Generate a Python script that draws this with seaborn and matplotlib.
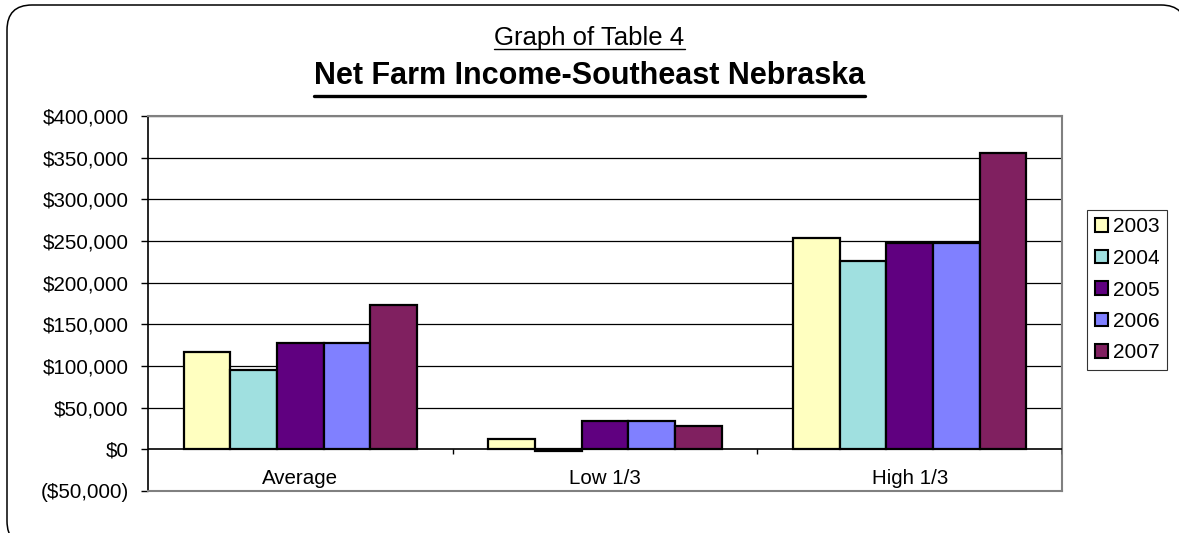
import matplotlib
matplotlib.use("Agg")
import matplotlib.pyplot as plt
import seaborn as sns
import pandas as pd
from matplotlib.patches import FancyBboxPatch, Patch
from matplotlib.lines import Line2D
from matplotlib.transforms import IdentityTransform

categories = ["Average", "Low 1/3", "High 1/3"]
years = ["2003", "2004", "2005", "2006", "2007"]
v2003 = [117000, 13000, 254000]
v2004 = [95000, -2000, 226000]
v2005 = [128000, 34000, 248000]
v2006 = [128000, 34000, 248000]
v2007 = [173000, 28000, 356000]
colors = ["#FFFFC0", "#A0E0E0", "#600080", "#8080FF", "#802060"]
ytick_vals = [-50000, 0, 50000, 100000, 150000, 200000, 250000, 300000, 350000, 400000]

series = [v2003, v2004, v2005, v2006, v2007]
rows = []
for y, vals in zip(years, series):
    for c, v in zip(categories, vals):
        rows.append({"Group": c, "Year": y, "Income": v})
df = pd.DataFrame(rows)

sns.set_style("white")
plt.rcParams["font.family"] = ["Liberation Sans", "DejaVu Sans"]
for k in ["text.color", "axes.labelcolor", "xtick.color", "ytick.color"]:
    plt.rcParams[k] = "black"

fig = plt.figure(figsize=(11.79, 5.33), dpi=100)
ax = fig.add_axes([148/1179, 1-491/533, (1062-148)/1179, (491-116)/533])

sns.barplot(data=df, x="Group", y="Income", hue="Year", order=categories,
            hue_order=years, palette=colors, width=0.765, saturation=1,
            edgecolor="black", linewidth=1.6, ax=ax, legend=False, zorder=3)

ax.set_ylim(-50000, 400000)
ax.set_xlim(-0.5, 2.5)
ax.set_yticks(ytick_vals)
ax.set_yticklabels([f"${v:,.0f}" if v >= 0 else f"(${-v:,.0f})" for v in ytick_vals])
ax.tick_params(axis="y", length=5, width=1, color="black", pad=9, left=True,
               labelsize=14.8)
for v in ytick_vals:
    if v > 0:
        ax.axhline(v, color="black", linewidth=0.9, zorder=1)
ax.axhline(0, color="black", linewidth=1.2, zorder=4)
ax.vlines([0.5, 1.5, 2.5], -5000, 0, color="black", linewidth=1, zorder=4)
ax.set_xticks(range(len(categories)))
ax.set_xticklabels(categories)
ax.tick_params(axis="x", length=0, pad=-16, labelsize=14.8)
ax.set_xlabel("")
ax.set_ylabel("")
for s in ["top", "right", "bottom"]:
    ax.spines[s].set_color("#808080")
    ax.spines[s].set_linewidth(1.5)
ax.spines["left"].set_color("black")
ax.spines["left"].set_linewidth(1.2)

handles = [Patch(facecolor=c, edgecolor="black", linewidth=1.5, label=y)
           for c, y in zip(colors, years)]
leg = fig.legend(handles=handles, loc="center", bbox_to_anchor=(1127/1179, 1-290/533),
                 frameon=True, fontsize=15, handlelength=0.62, handleheight=0.62,
                 handletextpad=0.25, labelspacing=0.6, borderpad=0.35, fancybox=False,
                 borderaxespad=0)
leg.get_frame().set_edgecolor("black")
leg.get_frame().set_linewidth(0.8)

t1 = fig.text(0.5, 1-38/533, "Graph of Table 4", ha="center", va="center", fontsize=18.5)
t2 = fig.text(0.5, 1-76/533, "Net Farm Income-Southeast Nebraska", ha="center", va="center",
              fontsize=22, fontweight="bold")

frame = FancyBboxPatch((7, -13), 1179, 541,
                       boxstyle="round,pad=0,rounding_size=25",
                       transform=IdentityTransform(), facecolor="white", edgecolor="black",
                       linewidth=1.1, zorder=-1)
fig.patches.append(frame)

fig.canvas.draw()
r = fig.canvas.get_renderer()
inv = fig.transFigure.inverted()
for t, lw, yoff in [(t1, 1.0, 49), (t2, 2.4, 96)]:
    bb = t.get_window_extent(renderer=r)
    (x0, y0), (x1, y1) = inv.transform([[bb.x0, bb.y0], [bb.x1, bb.y1]])
    yl = 1 - yoff/533
    fig.add_artist(Line2D([x0, x1], [yl, yl], transform=fig.transFigure,
                          color="black", linewidth=lw))

fig.savefig("out.png", dpi=100)
